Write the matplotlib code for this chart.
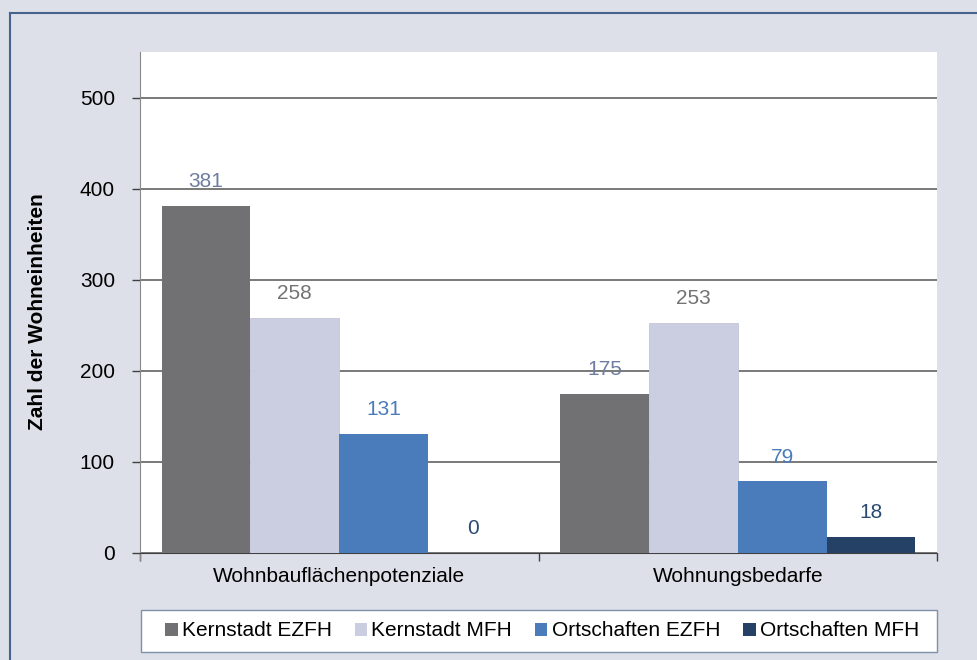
import matplotlib
matplotlib.use("Agg")
import matplotlib.pyplot as plt
import numpy as np
from matplotlib.patches import Rectangle, Patch
from matplotlib.lines import Line2D

plt.rcParams['font.family'] = ['Liberation Sans', 'DejaVu Sans']

# data
categories = ['Wohnbauflächenpotenziale', 'Wohnungsbedarfe']
series = ['Kernstadt EZFH', 'Kernstadt MFH', 'Ortschaften EZFH', 'Ortschaften MFH']
values = [
    [381, 175],
    [258, 253],
    [131, 79],
    [0, 18],
]
bar_colors = ['#717173', '#cbcde0', '#4a7bbb', '#254166']
label_colors = ['#6e7ca0', '#737373', '#4a7bbb', '#2a4a72']

W, H = 978, 660
fig = plt.figure(figsize=(W / 100, H / 100), dpi=100)
fig.patch.set_facecolor('#dde0e8')

# outer frame: only the top and left edges fall inside the canvas
frame_x, frame_y = 10 / W, 1 - 13 / H
fig.add_artist(Line2D([frame_x, 1.0], [frame_y, frame_y], transform=fig.transFigure,
                      color='#46638c', lw=1.5))
fig.add_artist(Line2D([frame_x, frame_x], [0.0, frame_y], transform=fig.transFigure,
                      color='#46638c', lw=1.5))

left, right, top, bottom = 140, 937, 52, 553
ax = fig.add_axes([left / W, (H - bottom) / H, (right - left) / W, (bottom - top) / H])
ax.set_facecolor('white')

x = np.arange(len(categories))
w = 0.223
for i, (name, vals) in enumerate(zip(series, values)):
    xs = x + (i - 1.5) * w
    ax.bar(xs, vals, width=w, color=bar_colors[i], label=name, zorder=3,
           edgecolor='#c4c6da' if i == 1 else 'none', linewidth=0.6)
    for xi, v in zip(xs, vals):
        ax.annotate(str(v), (xi, v), xytext=(0, 24), textcoords='offset pixels',
                    ha='center', va='center', fontsize=15, color=label_colors[i])

ax.set_xlim(-0.5, 1.5)
ax.set_ylim(0, 550)
ax.set_yticks(range(0, 501, 100))
ax.yaxis.grid(True, color='#555555', lw=1.1, zorder=0)
ax.set_axisbelow(True)

for s in ['top', 'right']:
    ax.spines[s].set_visible(False)
ax.spines['left'].set_color('#888888')
ax.spines['bottom'].set_color('#404040')
ax.spines['left'].set_bounds(-8, 550)

ax.tick_params(axis='y', length=6, width=1, color='#404040', pad=12, labelsize=15)
ax.set_xticks([-0.5, 0.5, 1.5])
ax.set_xticklabels([])
ax.tick_params(axis='x', which='major', length=6, width=1, color='#404040')
ax.set_xticks(x, minor=True)
ax.set_xticklabels(categories, minor=True)
ax.tick_params(axis='x', which='minor', length=0, pad=10, labelsize=15)

fig.text(38 / W, 1 - 312 / H, 'Zahl der Wohneinheiten', rotation=90,
         ha='center', va='center', fontsize=15, fontweight='bold')

# legend box
fig.add_artist(Rectangle((141 / W, (H - 652) / H), (937 - 141) / W, 42 / H,
                         transform=fig.transFigure, fc='white', ec='#7f90aa', lw=1))
handles = [Patch(facecolor=c) for c in bar_colors]
fig.legend(handles, series, loc='center', bbox_to_anchor=(542 / W, 1 - 631 / H),
           ncol=4, frameon=False, fontsize=15, handlelength=0.6, handleheight=0.6,
           handletextpad=0.2, columnspacing=1.1)

fig.savefig('out.png', dpi=100, facecolor=fig.get_facecolor())
